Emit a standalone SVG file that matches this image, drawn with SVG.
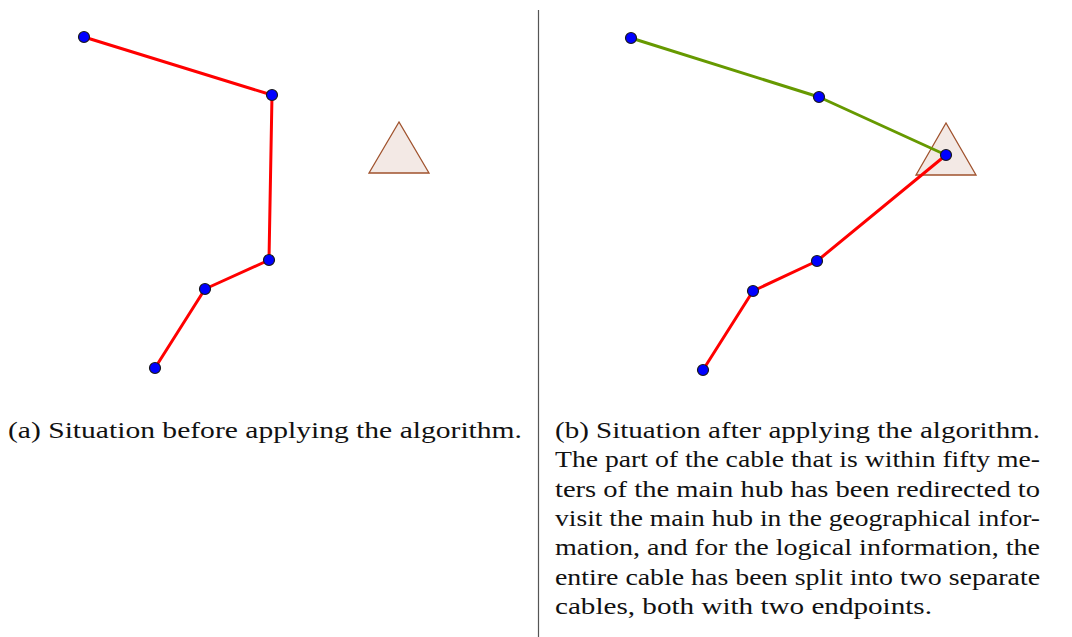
<svg xmlns="http://www.w3.org/2000/svg" width="1072" height="637" viewBox="0 0 1072 637">
<style>
.red{stroke:#ff0000;stroke-width:3;fill:none;stroke-linecap:round;stroke-linejoin:round}
.green{stroke:#669900;stroke-width:3;fill:none;stroke-linecap:round;stroke-linejoin:round}
.pt{fill:#0000ff;stroke:#1a1a1a;stroke-width:1.2}
.hub{fill:#f3e9e5;stroke:#a0522d;stroke-width:1.3}
</style>
<rect width="1072" height="637" fill="#ffffff"/>
<line x1="538.5" y1="10" x2="538.5" y2="637" stroke="#555" stroke-width="1.2"/>
<g id="hub-a"><polygon class="hub" points="399,122 369,173 429,173"/></g>
<g id="hub-b"><polygon class="hub" points="946,123 916,175 976,175"/></g>
<g id="connectors">
<polyline class="red" points="84,37 272,95 269,260 205,289 155,368"/>
<polyline class="green" points="631,38 819,97 946,155"/>
<polyline class="red" points="946,155 817,261 753,291 703,370"/>
</g>
<g id="points-a">
<circle class="pt" cx="84" cy="37" r="5.5"/>
<circle class="pt" cx="272" cy="95" r="5.5"/>
<circle class="pt" cx="269" cy="260" r="5.5"/>
<circle class="pt" cx="205" cy="289" r="5.5"/>
<circle class="pt" cx="155" cy="368" r="5.5"/>
</g>
<g id="points-b">
<circle class="pt" cx="631" cy="38" r="5.5"/>
<circle class="pt" cx="819" cy="97" r="5.5"/>
<circle class="pt" cx="946" cy="155" r="5.5"/>
<circle class="pt" cx="817" cy="261" r="5.5"/>
<circle class="pt" cx="753" cy="291" r="5.5"/>
<circle class="pt" cx="703" cy="370" r="5.5"/>
</g>
<g id="caption-a">
<text x="8" y="438" font-family="Liberation Serif" font-size="24" fill="#111" textLength="514" lengthAdjust="spacingAndGlyphs">(a) Situation before applying the algorithm.</text>
</g>
<g id="caption-b">
<text x="555" y="438" font-family="Liberation Serif" font-size="24" fill="#111" textLength="485" lengthAdjust="spacingAndGlyphs">(b) Situation after applying the algorithm.</text>
<text x="555" y="467.3" font-family="Liberation Serif" font-size="24" fill="#111" textLength="485" lengthAdjust="spacingAndGlyphs">The part of the cable that is within fifty me-</text>
<text x="555" y="496.6" font-family="Liberation Serif" font-size="24" fill="#111" textLength="485" lengthAdjust="spacingAndGlyphs">ters of the main hub has been redirected to</text>
<text x="555" y="525.9" font-family="Liberation Serif" font-size="24" fill="#111" textLength="485" lengthAdjust="spacingAndGlyphs">visit the main hub in the geographical infor-</text>
<text x="555" y="555.2" font-family="Liberation Serif" font-size="24" fill="#111" textLength="485" lengthAdjust="spacingAndGlyphs">mation, and for the logical information, the</text>
<text x="555" y="584.5" font-family="Liberation Serif" font-size="24" fill="#111" textLength="485" lengthAdjust="spacingAndGlyphs">entire cable has been split into two separate</text>
<text x="555" y="613.8" font-family="Liberation Serif" font-size="24" fill="#111" textLength="377" lengthAdjust="spacingAndGlyphs">cables, both with two endpoints.</text>
</g>
</svg>
